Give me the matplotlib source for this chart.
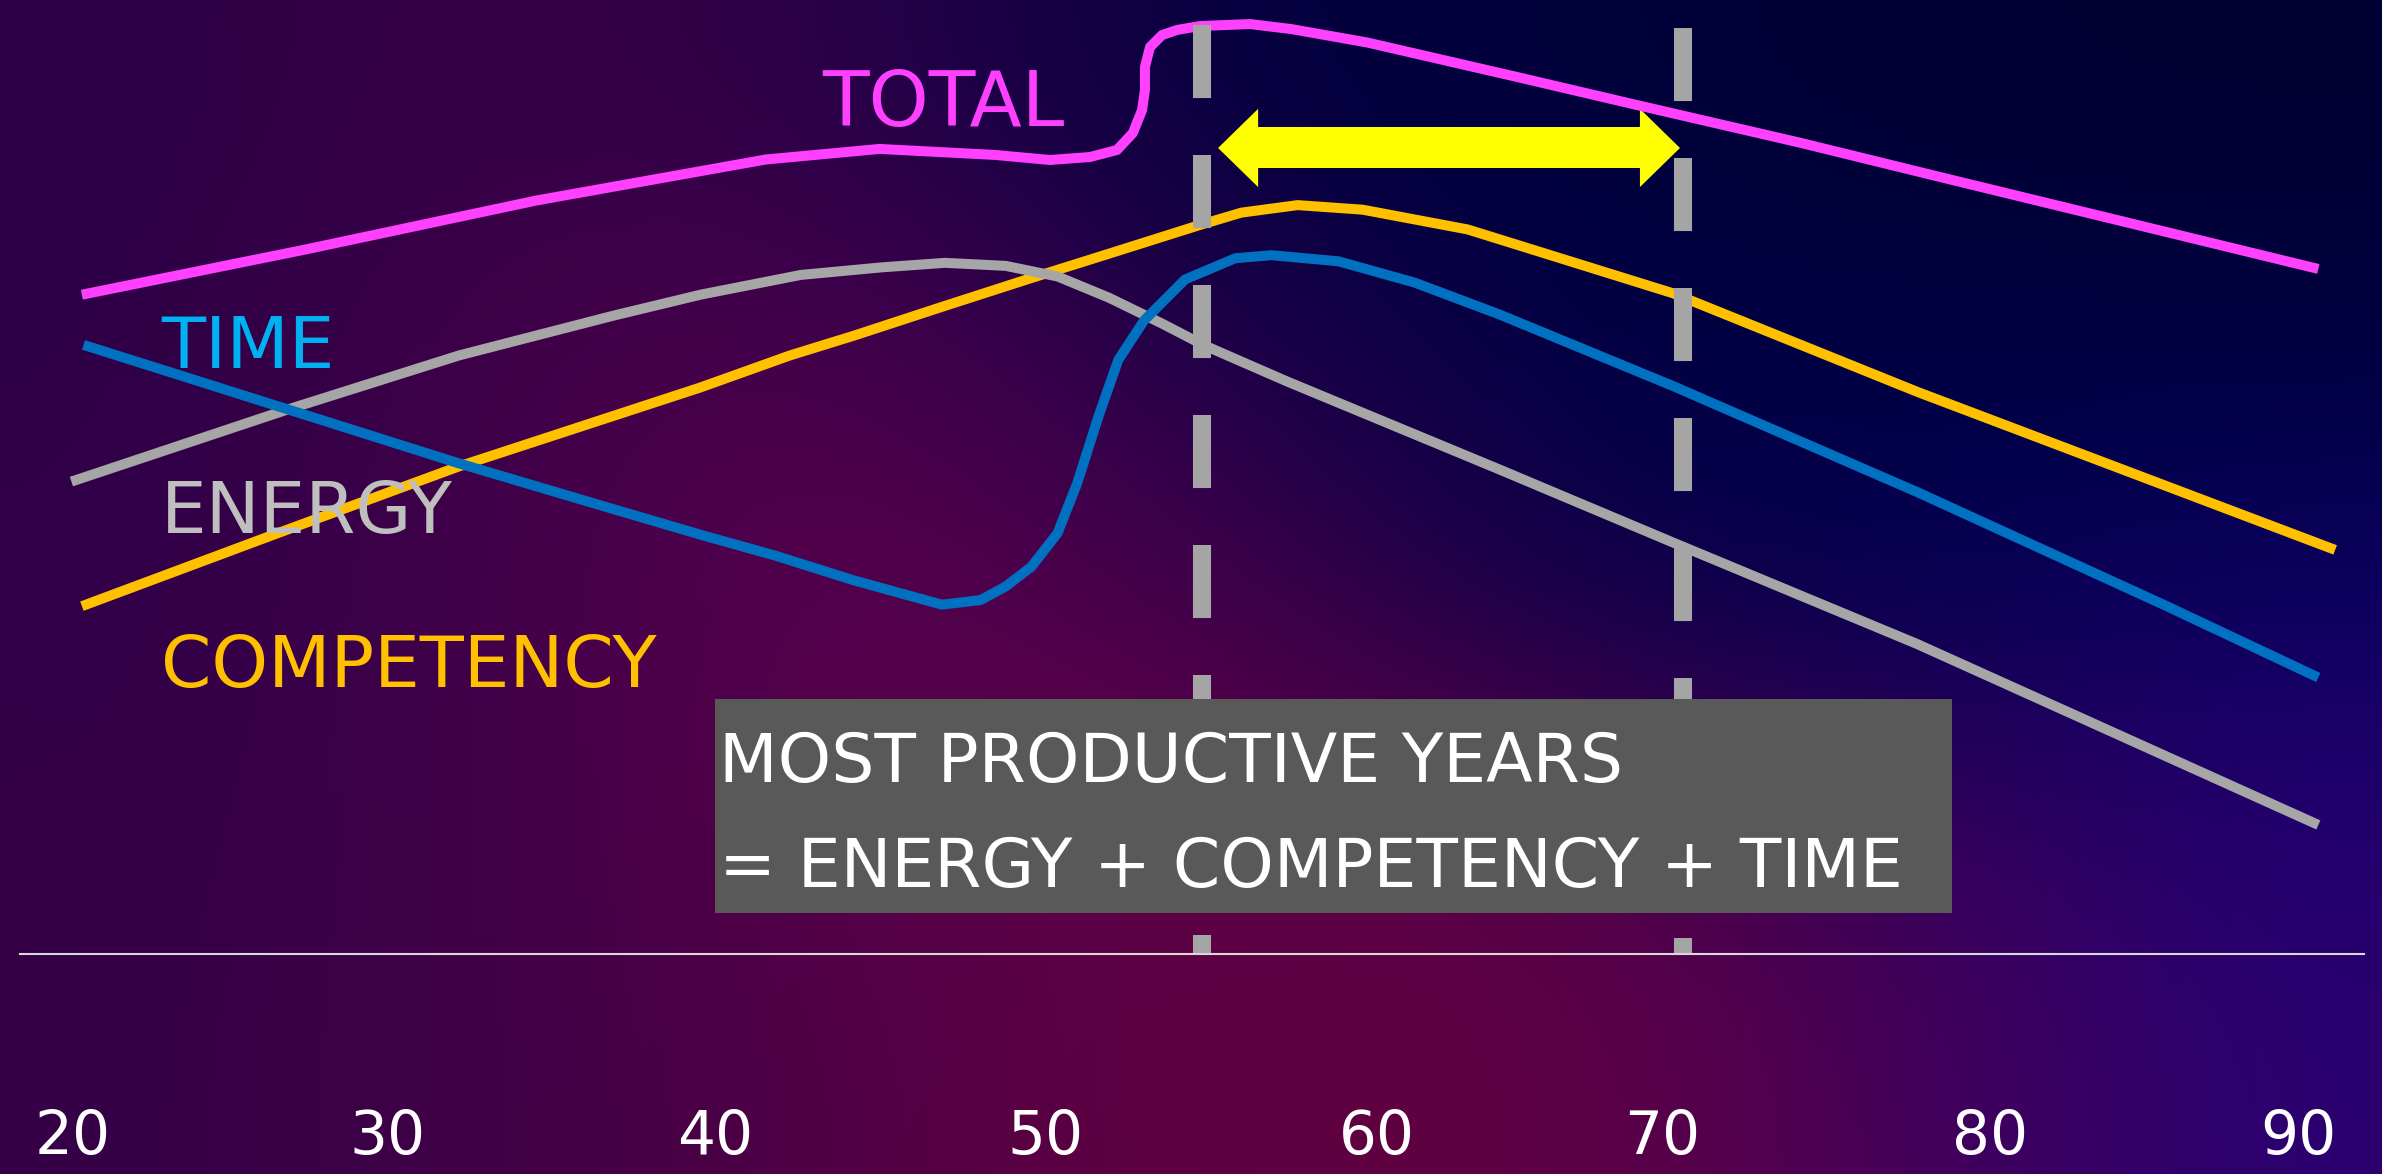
import numpy as np
import matplotlib
matplotlib.use("Agg")
import matplotlib.pyplot as plt
import matplotlib.patches as mpatches
from matplotlib.colors import to_rgb

plt.rcParams["lines.scale_dashes"] = False

# -----------------------------
# Data (age vs. level)
# -----------------------------
total_age = [20.28, 27.36, 34.57, 41.79, 45.37, 49.00, 50.73, 51.99, 52.84, 53.34,
             53.63, 53.72, 53.72, 53.88, 54.26, 54.73, 55.45, 57.02, 58.33, 60.72,
             65.49, 69.17, 74.34, 79.02, 90.63]
total_level = [69.11, 73.88, 78.98, 83.28, 84.39, 83.76, 83.23, 83.54, 84.28, 86.06,
               88.47, 90.57, 92.98, 95.07, 96.33, 96.86, 97.27, 97.48, 96.95, 95.54,
               91.88, 89.01, 85.03, 81.21, 71.81]

time_age = [20.33, 26.69, 32.14, 36.82, 39.74, 42.13, 44.56, 47.33, 48.55, 49.34,
            50.15, 50.97, 51.59, 52.26, 52.88, 53.69, 54.98, 56.56, 57.70, 59.81,
            62.20, 64.87, 70.32, 78.02, 85.76, 90.63]
time_level = [63.85, 57.16, 51.43, 46.81, 43.95, 41.72, 39.17, 36.62, 37.10, 38.53,
              40.60, 44.11, 49.36, 56.37, 62.26, 66.40, 70.70, 72.93, 73.25, 72.61,
              70.38, 67.04, 59.55, 48.41, 36.62, 28.98]

energy_age = [19.95, 26.69, 32.14, 36.96, 39.74, 42.89, 45.42, 47.43, 49.34, 50.97,
              52.59, 54.26, 55.55, 58.18, 64.87, 70.32, 78.02, 90.63]
energy_level = [49.52, 57.01, 62.74, 66.88, 69.11, 71.18, 71.97, 72.45, 72.13, 71.02,
                68.79, 66.08, 63.85, 60.03, 50.79, 43.15, 32.48, 13.53]

comp_age = [20.28, 26.31, 32.14, 36.82, 39.74, 42.55, 44.56, 47.33, 50.15, 52.59,
            55.46, 56.75, 58.52, 60.57, 63.87, 70.32, 78.02, 91.16]
comp_level = [36.46, 43.95, 51.11, 56.21, 59.39, 62.74, 64.81, 67.83, 70.86, 73.41,
              76.43, 77.71, 78.50, 78.02, 75.95, 69.27, 58.92, 42.36]

# productive window (ages)
window_lines = [55.53, 70.64]
window_tops = [97.38, 97.07]
arrow_ends = [56.02, 70.55]
arrow_level = 84.49

tick_ages = [20, 29.9, 40.2, 50.6, 61.0, 70.0, 80.3, 90.0]
tick_labels = ["20", "30", "40", "50", "60", "70", "80", "90"]

# background colour anchors (rows top -> bottom)
bg_colors = [
    ["#2c0048", "#380044", "#2a004a", "#050040", "#00003c", "#000035", "#000032"],
    ["#2e0048", "#410048", "#4e004c", "#20004a", "#000045", "#000042", "#000040"],
    ["#300048", "#42004a", "#5a004e", "#48004a", "#100048", "#000050", "#0a0060"],
    ["#330048", "#420048", "#580048", "#600048", "#5a0045", "#3a0055", "#240070"],
    ["#350046", "#420046", "#500045", "#600040", "#620040", "#4a0055", "#2a0070"],
]

# -----------------------------
# Figure
# -----------------------------
fig = plt.figure(figsize=(23.82, 11.74), dpi=100)
ax = fig.add_axes([0, 0, 1, 1])
ax.set_xlim(17.704, 92.633)
ax.set_ylim(-23.06, 100)
ax.axis("off")

bg = np.array([[to_rgb(c) for c in row] for row in bg_colors])
ax.imshow(bg, extent=(17.704, 92.633, -23.06, 100), aspect="auto",
          interpolation="bicubic", zorder=0)

# yellow double arrow: one shaft + two heads
head_len = 1.26
shaft_h = 4.3
ax.add_patch(mpatches.Rectangle((arrow_ends[0] + head_len - 0.3, arrow_level - shaft_h / 2),
                                arrow_ends[1] - arrow_ends[0] - 2 * head_len + 0.6, shaft_h,
                                facecolor="#ffff00", edgecolor="none", zorder=2))
ax.arrow(arrow_ends[0] + head_len, arrow_level, -head_len, 0, width=0.01, head_width=8.2,
         head_length=head_len, length_includes_head=True,
         facecolor="#ffff00", edgecolor="none", zorder=2)
ax.arrow(arrow_ends[1] - head_len, arrow_level, head_len, 0, width=0.01, head_width=8.2,
         head_length=head_len, length_includes_head=True,
         facecolor="#ffff00", edgecolor="none", zorder=2)

# curves
line_kw = dict(lw=7.2, solid_capstyle="butt", solid_joinstyle="round", zorder=3)
ax.plot(comp_age, comp_level, color="#ffc000", **line_kw)
ax.plot(energy_age, energy_level, color="#a6a6a6", **line_kw)
ax.plot(time_age, time_level, color="#0070c0", **line_kw)
ax.plot(total_age, total_level, color="#ff40ff", **line_kw)

# dashed verticals
for xv, top in zip(window_lines, window_tops):
    ax.plot([xv, xv], [top, 0], color="#a5a5a5", lw=13,
            dashes=[52.6, 41.0], dash_capstyle="butt", zorder=4)

# baseline
ax.plot([18.33, 92.07], [0, 0], color="#d9d9d9", lw=1.5, zorder=4)

# text box
ax.add_patch(mpatches.Rectangle((40.21, 4.30), 79.11 - 40.21, 26.75 - 4.30,
                                facecolor="#595959", edgecolor="none", zorder=5))
ax.text(40.31, 17.99, "MOST PRODUCTIVE YEARS", color="white", fontsize=49,
        ha="left", va="baseline", zorder=6)
ax.text(40.31, 7.00, "= ENERGY + COMPETENCY + TIME", color="white", fontsize=49,
        ha="left", va="baseline", zorder=6)

# series labels
ax.text(43.56, 86.78, "TOTAL", color="#ff40ff", fontsize=55, ha="left", va="baseline", zorder=6)
ax.text(22.77, 61.46, "TIME", color="#00b0f0", fontsize=52, ha="left", va="baseline", zorder=6)
ax.text(22.77, 44.11, "ENERGY", color="#bfbfbf", fontsize=52, ha="left", va="baseline", zorder=6)
ax.text(22.77, 28.02, "COMPETENCY", color="#ffc000", fontsize=52, ha="left", va="baseline", zorder=6)

# age labels
for a, lab in zip(tick_ages, tick_labels):
    ax.text(a, -21.0, lab, color="white", fontsize=43, ha="center", va="baseline", zorder=6)

fig.savefig("out.png", dpi=100)
